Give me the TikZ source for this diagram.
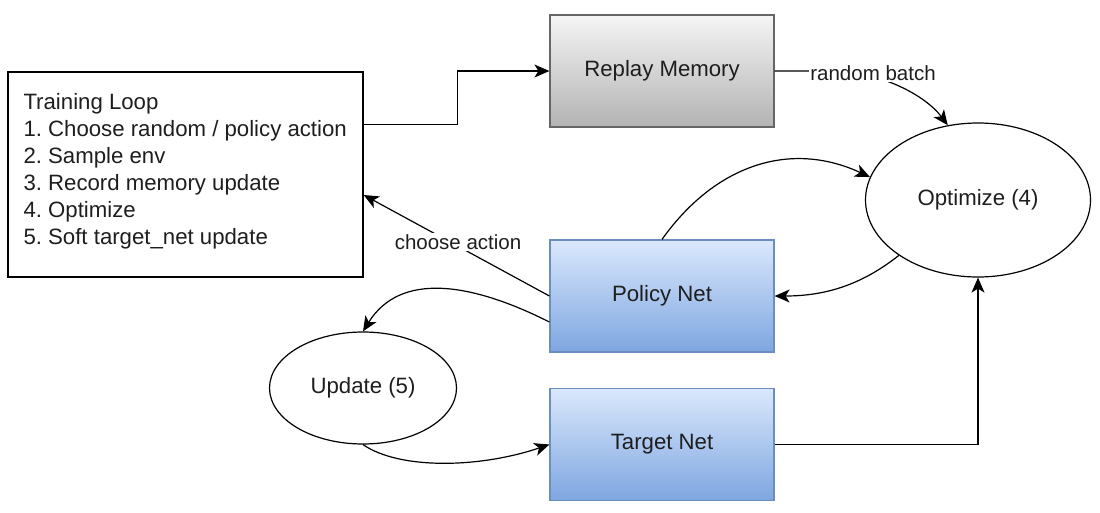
\documentclass[tikz,border=0pt]{standalone}
\usepackage{fontspec}
\setmainfont{Liberation Sans}
\usetikzlibrary{arrows.meta,shapes.geometric}
\definecolor{gtop}{HTML}{F5F5F5}
\definecolor{gbot}{HTML}{B3B3B3}
\definecolor{gline}{HTML}{666666}
\definecolor{btop}{HTML}{DAE8FC}
\definecolor{bbot}{HTML}{7EA6E0}
\definecolor{bline}{HTML}{6C8EBF}
\definecolor{txt}{HTML}{1E1E1E}
\frenchspacing
\begin{document}
\begin{tikzpicture}[x=1pt,y=-1pt,
  mainfont/.style={font=\fontsize{22.2}{27}\selectfont, text=txt},
  labfont/.style={font=\fontsize{20.5}{23}\selectfont, text=txt},
  netbox/.style={draw, line width=1.2pt, inner sep=0pt, minimum width=224pt, minimum height=112pt, mainfont},
  graybox/.style={netbox, draw=gline, top color=gtop, bottom color=gbot},
  bluebox/.style={netbox, draw=bline, top color=btop, bottom color=bbot},
  ell/.style={draw, ellipse, line width=1.2pt, inner sep=0pt, mainfont},
  loopbox/.style={draw, line width=1.4pt, inner sep=0pt, minimum width=355pt, minimum height=205pt},
  looptext/.style={inner sep=0pt, align=left, anchor=west, mainfont},
  arr/.style={-{Stealth[length=15pt,width=13pt,inset=4pt]}, line width=1.2pt},
  lab/.style={fill=white, inner sep=1pt, labfont}
]
\useasboundingbox (0,0) rectangle (1100,512);

\node[loopbox] (tl) at (185.5,174.5) {};
\node[looptext] (tltext) at ([xshift=16pt,yshift=3pt]tl.west) {Training Loop\\1. Choose random / policy action\\2. Sample env\\3. Record memory update\\4. Optimize\\5. Soft target\_net update};

\node[graybox] (rm) at (662,71) {Replay Memory};
\node[bluebox] (pn) at (662,296) {Policy Net};
\node[bluebox] (tn) at (662,444.5) {Target Net};
\node[ell, minimum width=225pt, minimum height=154pt] (opt) at (978,200) {Optimize (4)};
\node[ell, minimum width=187pt, minimum height=112pt] (upd) at (363,388) {Update (5)};

% training loop -> replay memory
\draw[arr] ([yshift=50pt]tl.east) -- ++(94,0) |- (rm.west);

% replay memory -> optimize (random batch)
\draw[arr] (rm.east) -- (830,71) .. controls (880,71) and (925,95) .. (opt.112);
\node[lab] (rb) at (873,73) {random batch};

% policy net -> optimize
\draw[arr] (pn.north) .. controls (715,165) and (790,140) .. (opt.168);

% optimize -> policy net
\draw[arr] (opt.215) .. controls (865,282) and (830,296) .. (pn.east);

% policy net -> training loop (choose action)
\draw[arr] (pn.west) -- ([yshift=-20.5pt]tl.east);
\node[lab] (ca) at (458,242) {choose action};

% policy net -> update
\draw[arr] ([yshift=-26pt]pn.west) .. controls (470,282) and (400,272) .. (upd.north);

% update -> target net
\draw[arr] (upd.south) .. controls (400,470) and (480,468) .. (tn.west);

% target net -> optimize
\draw[arr] (tn.east) -| (opt.south);
\end{tikzpicture}
\end{document}
